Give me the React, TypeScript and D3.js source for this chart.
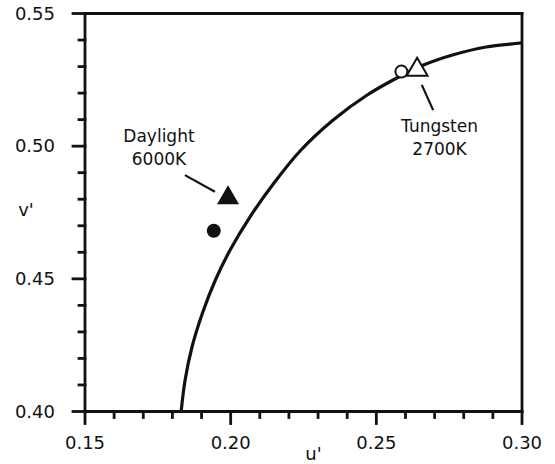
import React from "react";
import * as d3 from "d3";

// Planckian locus
const locusU = [0.183, 0.18436, 0.18673, 0.19033, 0.19476, 0.19981, 0.2066, 0.21487, 0.22414, 0.23519, 0.24686, 0.25702, 0.26619, 0.27614, 0.28768, 0.29935, 0.3];
const locusV = [0.4, 0.41187, 0.42431, 0.43712, 0.44956, 0.46087, 0.4733, 0.48612, 0.49856, 0.50986, 0.51928, 0.52569, 0.53059, 0.53436, 0.53738, 0.53888, 0.539];

// Markers
const daylightTriangle = [0.1991, 0.4805];
const daylightDot = [0.1942, 0.4681];
const tungstenCircle = [0.2586, 0.5281];
const tungstenTriangle = [0.264, 0.5288];

// Annotations
const labelNames = [["Daylight", "6000K"], ["Tungsten", "2700K"]];
const labelPos = [[0.1754, 0.5017], [0.2717, 0.5055]];
const leaderStart = [[0.1843, 0.4891], [0.2656, 0.5231]];
const leaderEnd = [[0.1946, 0.4828], [0.2695, 0.5136]];

// Axes
const xMajorTicks = [0.15, 0.2, 0.25, 0.3];
const yMajorTicks = [0.4, 0.45, 0.5, 0.55];
const xDomain = [0.15, 0.3];
const yDomain = [0.4, 0.55];
const xLabel = "u'";
const yLabel = "v'";

const W = 555;
const H = 464;
const M = { left: 85, top: 13.5, right: 33, bottom: 52.5 };
const FONT = "'DejaVu Sans', Verdana, sans-serif";
const INK = "#111";

export default function App() {
  const x = d3.scaleLinear().domain(xDomain).range([M.left, W - M.right]);
  const y = d3.scaleLinear().domain(yDomain).range([H - M.bottom, M.top]);
  const xMinor = d3.range(0, 16).map((i) => 0.15 + i * 0.01).filter((v) => Math.abs((v * 100) % 5) > 0.01 && Math.abs((v * 100) % 5 - 5) > 0.01);
  const yMinor = xMinor.map((v) => v + 0.25);
  const line = d3
    .line<number>()
    .x((_, i) => x(locusU[i]))
    .y((_, i) => y(locusV[i]))
    .curve(d3.curveCatmullRom.alpha(0.5));
  const tri = d3.symbol().type(d3.symbolTriangle).size(210)();
  const x0 = x(xDomain[0]);
  const x1 = x(xDomain[1]);
  const y0 = y(yDomain[0]);
  const y1 = y(yDomain[1]);
  return (
    <svg width={W} height={H} style={{ position: "absolute", left: 0, top: 0, background: "#fff" }} fontFamily={FONT}>
      <rect width={W} height={H} fill="#fff" />
      <path d={line(locusU) || ""} fill="none" stroke={INK} strokeWidth={3.2} />
      {/* frame */}
      <g stroke={INK} strokeWidth={2.8} fill="none" strokeLinecap="square">
        <line x1={x0} y1={y0} x2={x1} y2={y0} />
        <line x1={x0} y1={y0} x2={x0} y2={y1} />
        <line x1={x0} y1={y1} x2={x1} y2={y1} />
        <line x1={x1} y1={y0} x2={x1} y2={y1} />
        {xMajorTicks.map((t) => (
          <line key={"xm" + t} x1={x(t)} x2={x(t)} y1={y0} y2={y0 + 12} />
        ))}
        {xMinor.map((t) => (
          <line key={"xn" + t} x1={x(t)} x2={x(t)} y1={y0} y2={y0 + 6} />
        ))}
        {yMajorTicks.map((t) => (
          <line key={"ym" + t} x1={x0} x2={x0 - 12} y1={y(t)} y2={y(t)} />
        ))}
        {yMinor.map((t) => (
          <line key={"yn" + t} x1={x0} x2={x0 - 6} y1={y(t)} y2={y(t)} />
        ))}
      </g>
      <g fontSize={18} fill={INK}>
        {xMajorTicks.map((t) => (
          <text key={"xl" + t} x={x(t)} y={y0 + 37} textAnchor="middle">
            {t.toFixed(2)}
          </text>
        ))}
        {yMajorTicks.map((t) => (
          <text key={"yl" + t} x={x0 - 30} y={y(t)} dy="0.35em" textAnchor="end">
            {t.toFixed(2)}
          </text>
        ))}
        <text x={(x0 + x1) / 2 + 10} y={H - 4} textAnchor="middle">
          {xLabel}
        </text>
        <text x={26} y={216} textAnchor="middle">
          {yLabel}
        </text>
      </g>
      {/* markers */}
      <path d={tri || ""} transform={`translate(${x(daylightTriangle[0])},${y(daylightTriangle[1])})`} fill={INK} />
      <circle cx={x(daylightDot[0])} cy={y(daylightDot[1])} r={7} fill={INK} />
      <path
        d={d3.symbol().type(d3.symbolTriangle).size(190)() || ""}
        transform={`translate(${x(tungstenTriangle[0])},${y(tungstenTriangle[1])})`}
        fill="#fff"
        stroke={INK}
        strokeWidth={2}
      />
      <circle cx={x(tungstenCircle[0])} cy={y(tungstenCircle[1])} r={6} fill="#fff" stroke={INK} strokeWidth={2} />
      {/* annotations */}
      {leaderStart.map((s, i) => (
        <line key={"ld" + i} x1={x(s[0])} y1={y(s[1])} x2={x(leaderEnd[i][0])} y2={y(leaderEnd[i][1])} stroke={INK} strokeWidth={2.2} />
      ))}
      {labelNames.map((lines, i) => (
        <text key={"lb" + i} x={x(labelPos[i][0])} y={y(labelPos[i][1])} textAnchor="middle" fontSize={17} fill={INK}>
          {lines.map((l, j) => (
            <tspan key={j} x={x(labelPos[i][0])} dy={j === 0 ? 0 : 23}>
              {l}
            </tspan>
          ))}
        </text>
      ))}
    </svg>
  );
}
